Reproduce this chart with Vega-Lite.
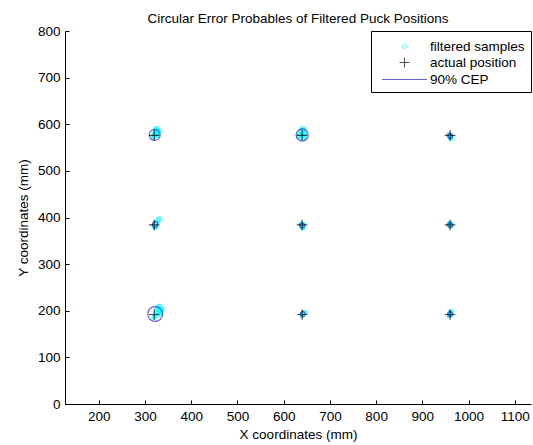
{
  "$schema": "https://vega.github.io/schema/vega-lite/v6.json",
  "width": 466,
  "height": 373,
  "autosize": {"type": "none"},
  "padding": {"left": 65, "top": 31, "right": 2, "bottom": 41},
  "background": "white",
  "title": {"text": "Circular Error Probables of Filtered Puck Positions", "fontSize": 13.5, "fontWeight": "normal", "font": "Liberation Sans", "color": "#000", "offset": -1, "anchor": "middle"},
  "config": {
    "view": {"stroke": null},
    "font": "Liberation Sans",
    "axis": {"domainColor": "#000", "tickColor": "#000", "labelColor": "#000", "titleColor": "#000", "labelFontSize": 13.5, "titleFontSize": 13.5, "titleFontWeight": "normal", "grid": false, "tickSize": -4, "labelPadding": 9, "labelFont": "Liberation Sans", "titleFont": "Liberation Sans", "format": "d"},
    "legend": {"labelFont": "Liberation Sans"}
  },
  "datasets": {
    "samples": [
      {"x": 322, "y": 578}, {"x": 325, "y": 583}, {"x": 327, "y": 588}, {"x": 324, "y": 591}, {"x": 320, "y": 575}, {"x": 318, "y": 572}, {"x": 326, "y": 580}, {"x": 329, "y": 585}, {"x": 323, "y": 586}, {"x": 321, "y": 581}, {"x": 326, "y": 576},
      {"x": 636, "y": 578}, {"x": 640, "y": 582}, {"x": 643, "y": 587}, {"x": 641, "y": 591}, {"x": 638, "y": 573}, {"x": 645, "y": 580}, {"x": 633, "y": 575}, {"x": 642, "y": 570}, {"x": 639, "y": 586}, {"x": 644, "y": 575},
      {"x": 960, "y": 574}, {"x": 962, "y": 570}, {"x": 958, "y": 578}, {"x": 961, "y": 572},
      {"x": 322, "y": 384}, {"x": 324, "y": 388}, {"x": 328, "y": 394}, {"x": 331, "y": 397}, {"x": 320, "y": 380}, {"x": 323, "y": 379},
      {"x": 640, "y": 380}, {"x": 642, "y": 384}, {"x": 638, "y": 386}, {"x": 641, "y": 378},
      {"x": 962, "y": 382}, {"x": 958, "y": 385}, {"x": 960, "y": 388},
      {"x": 325, "y": 195}, {"x": 330, "y": 200}, {"x": 334, "y": 205}, {"x": 328, "y": 208}, {"x": 322, "y": 190}, {"x": 335, "y": 198}, {"x": 331, "y": 193}, {"x": 326, "y": 203}, {"x": 320, "y": 186}, {"x": 332, "y": 210}, {"x": 336, "y": 203}, {"x": 329, "y": 196},
      {"x": 642, "y": 194}, {"x": 645, "y": 196}, {"x": 640, "y": 190},
      {"x": 960, "y": 195}, {"x": 962, "y": 198}, {"x": 958, "y": 190}, {"x": 961, "y": 192}
    ],
    "actual": [
      {"x": 320, "y": 576}, {"x": 640, "y": 576}, {"x": 960, "y": 576},
      {"x": 320, "y": 384}, {"x": 640, "y": 384}, {"x": 960, "y": 384},
      {"x": 320, "y": 192}, {"x": 640, "y": 192}, {"x": 960, "y": 192}
    ],
    "cep": [
      {"x": 321, "y": 577, "r": 12}, {"x": 640, "y": 577, "r": 13}, {"x": 960, "y": 575, "r": 5},
      {"x": 322, "y": 385, "r": 6}, {"x": 640, "y": 383, "r": 5}, {"x": 960, "y": 384, "r": 5},
      {"x": 322, "y": 193, "r": 16}, {"x": 641, "y": 193, "r": 5}, {"x": 960, "y": 193, "r": 5}
    ]
  },
  "encoding": {
    "x": {"field": "x", "type": "quantitative", "scale": {"domain": [127, 1135], "nice": false, "zero": false}, "axis": {"values": [200, 300, 400, 500, 600, 700, 800, 900, 1000, 1100], "title": "X coordinates (mm)", "titlePadding": 5}},
    "y": {"field": "y", "type": "quantitative", "scale": {"domain": [0, 800], "nice": false}, "axis": {"values": [0, 100, 200, 300, 400, 500, 600, 700, 800], "title": "Y coordinates (mm)", "titlePadding": 7}}
  },
  "layer": [
    {
      "data": {"name": "samples"},
      "mark": {"type": "point", "filled": false, "size": 256, "strokeWidth": 1.4},
      "encoding": {
        "color": {"datum": "filtered samples", "scale": {"domain": ["filtered samples", "actual position", "90% CEP"], "range": ["#00ffff", "#000000", "#2424d0"]},
          "legend": {"title": null, "orient": "top-right", "offset": 0, "strokeColor": "#000", "fillColor": "white", "padding": 6, "labelFontSize": 13.5, "labelColor": "#000", "symbolSize": 324, "symbolStrokeWidth": 1, "rowPadding": 0, "labelOffset": 16, "symbolOffset": 18}},
        "shape": {"datum": "filtered samples", "scale": {"domain": ["filtered samples", "actual position", "90% CEP"], "range": ["M-0.25,0A0.25,0.25,0,1,1,0.25,0A0.25,0.25,0,1,1,-0.25,0Z", "M-0.55,0H0.55M0,-0.55V0.55", "M-2.5,0H2.5"]},
          "legend": {"title": null, "orient": "top-right", "offset": 0, "strokeColor": "#000", "fillColor": "white", "padding": 6, "labelFontSize": 13.5, "labelColor": "#000", "symbolSize": 324, "symbolStrokeWidth": 1, "rowPadding": 0, "labelOffset": 16, "symbolOffset": 18}}
      }
    },
    {
      "data": {"name": "cep"},
      "mark": {"type": "point", "shape": "circle", "filled": false, "strokeWidth": 1.2},
      "encoding": {
        "color": {"datum": "90% CEP"},
        "size": {"field": "r", "type": "quantitative", "scale": {"type": "pow", "exponent": 2, "domain": [0, 20], "range": [0, 342]}, "legend": null}
      }
    },
    {
      "data": {"name": "actual"},
      "mark": {"type": "point", "filled": false, "size": 110, "strokeWidth": 1.2, "shape": "M-1,0H1M0,-1V1"},
      "encoding": {
        "color": {"datum": "actual position"}
      }
    }
  ]
}
